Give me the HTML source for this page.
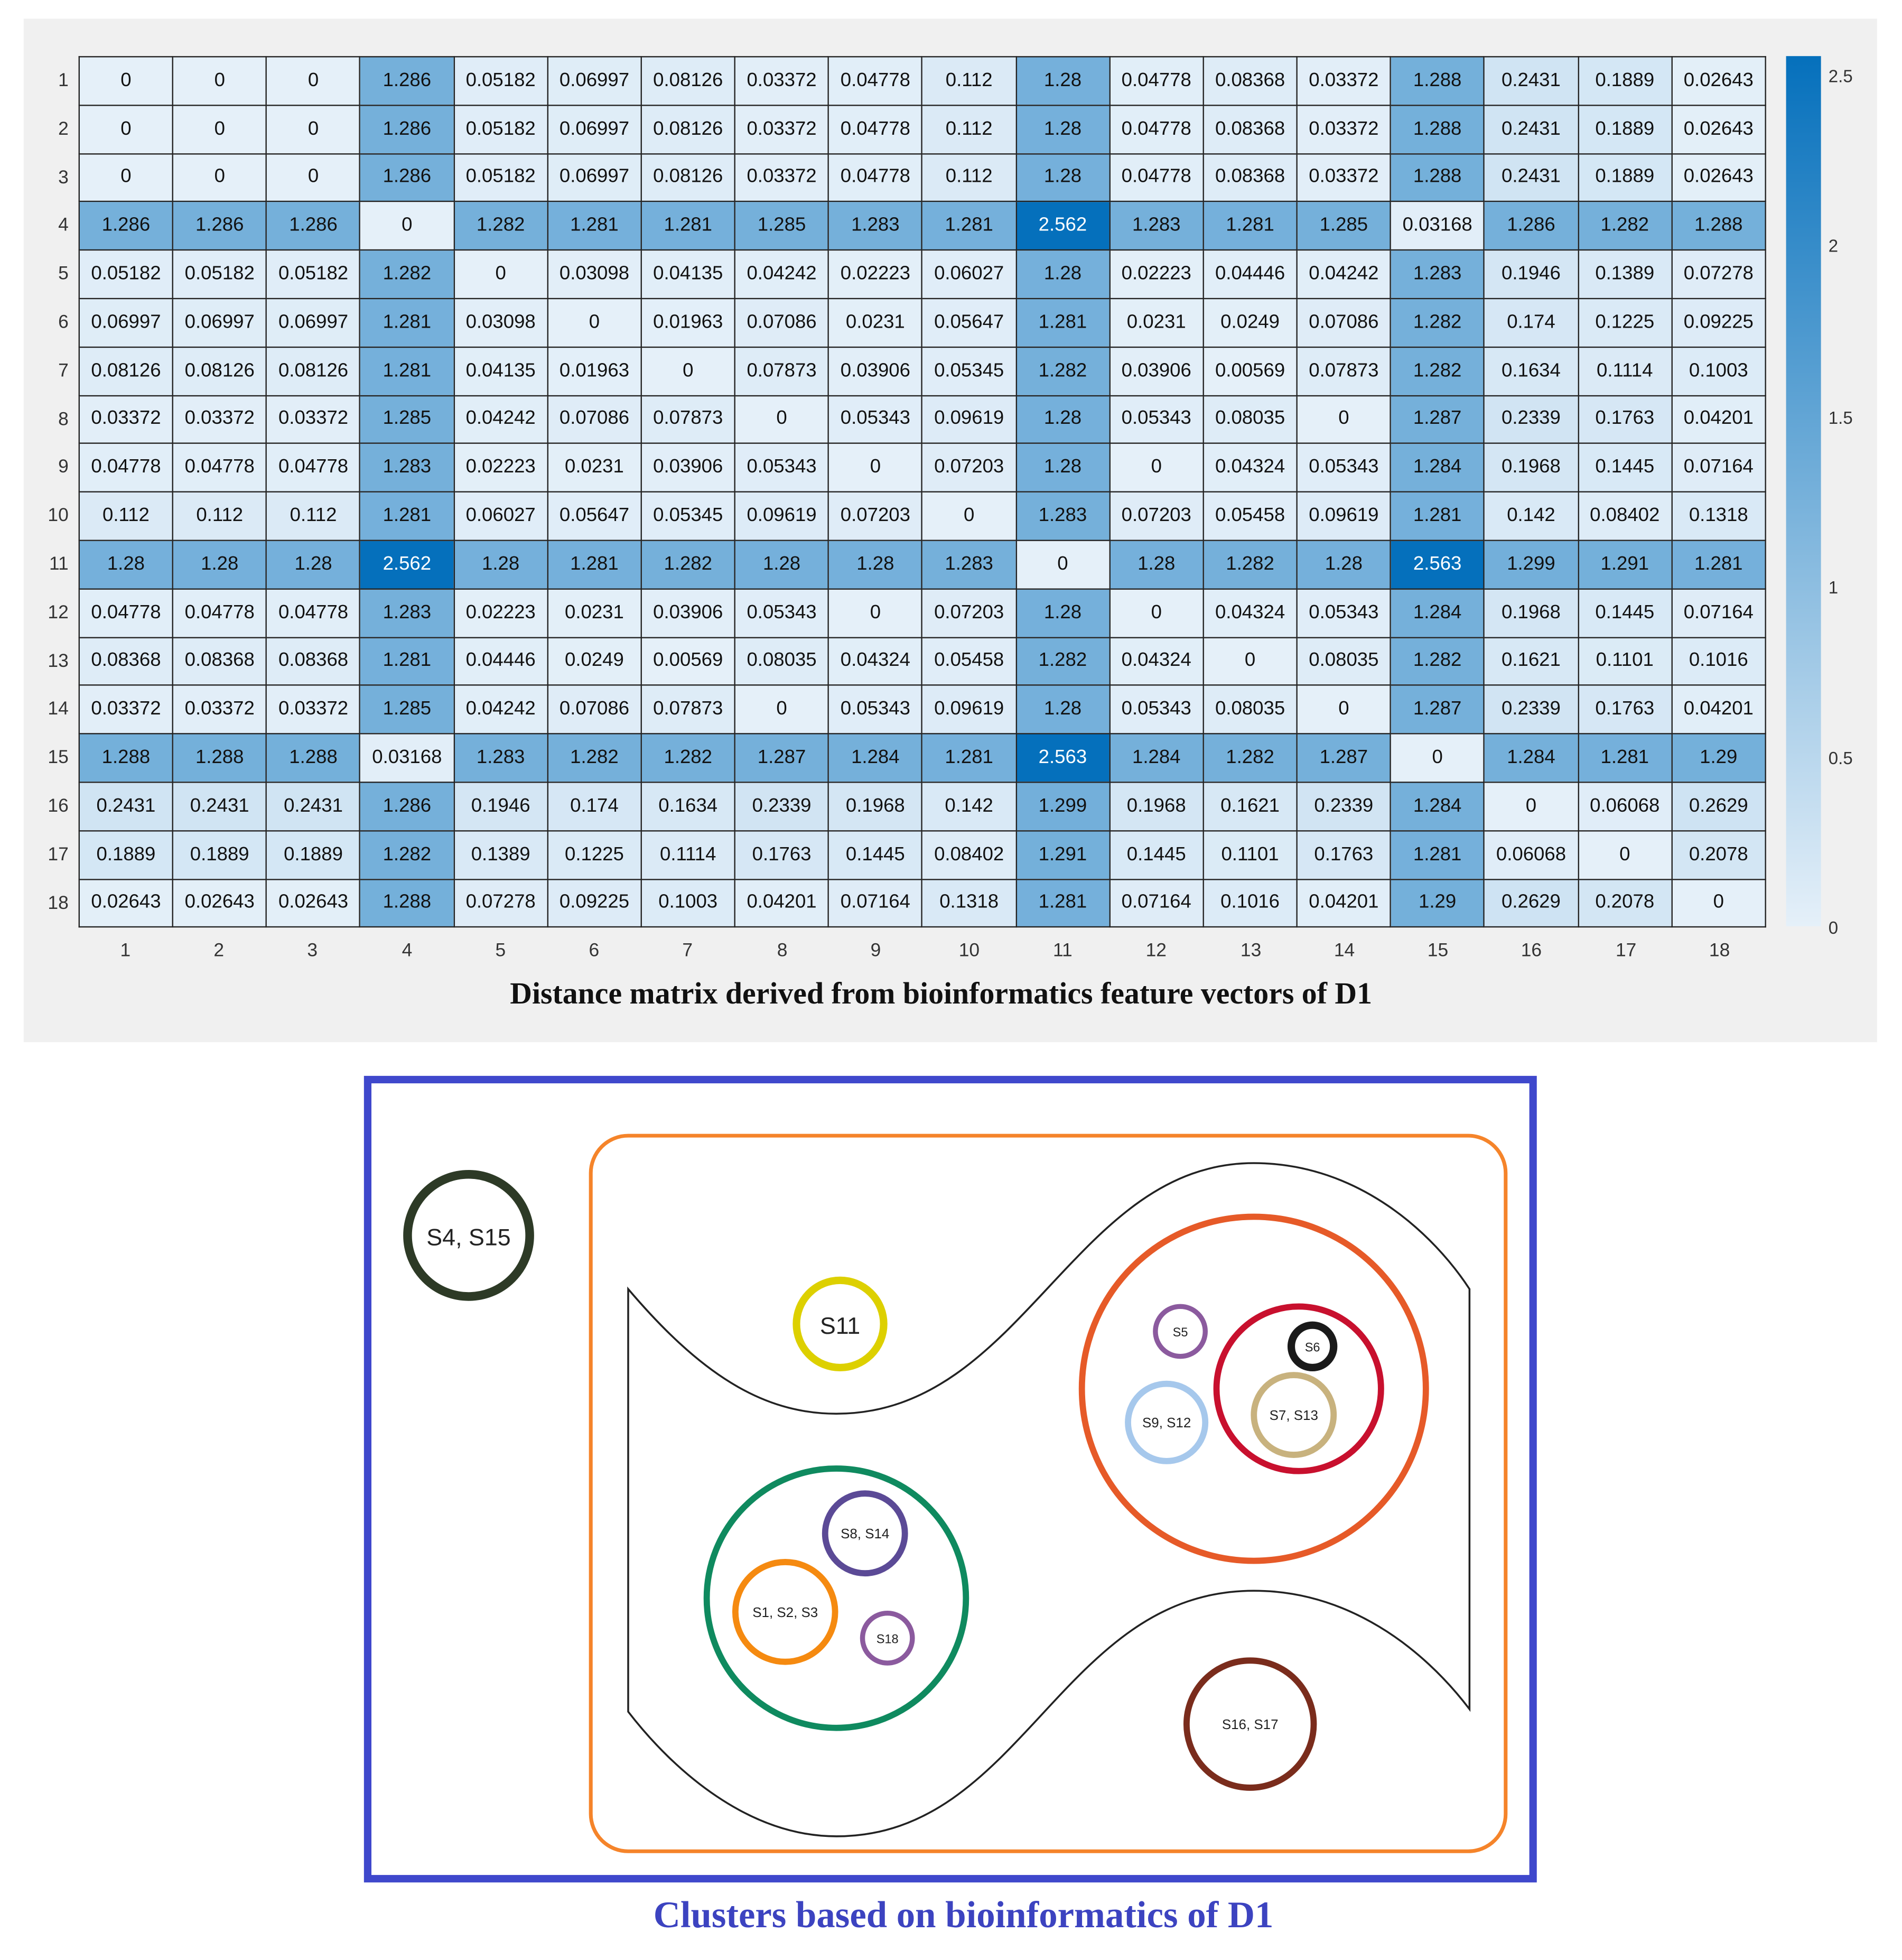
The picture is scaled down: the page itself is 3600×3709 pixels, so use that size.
<!DOCTYPE html>
<html><head><meta charset="utf-8"><style>
html,body{margin:0;padding:0;background:#fff;}
body{width:3600px;height:3709px;overflow:hidden;position:relative;}
#w{position:absolute;left:0;top:0;width:1526px;height:1572.2px;transform:scale(2.3591);transform-origin:0 0;font-family:"Liberation Sans",Arial,sans-serif;}
#panel{position:absolute;left:19px;top:15px;width:1487px;height:821px;background:#f0f0f0;}
table{position:absolute;left:63px;top:45px;width:1354px;border-collapse:collapse;table-layout:fixed;border:1.5px solid #222;}
td{border:1px solid #222;text-align:center;font-size:15.5px;line-height:16px;color:#111;padding:0;background:#e3eef8;height:37.8px;box-sizing:content-box;white-space:nowrap;overflow:hidden;}
.rl{position:absolute;left:30px;width:25px;text-align:right;font-size:15px;color:#333;}
.cl{position:absolute;top:754px;width:75.2px;text-align:center;font-size:15px;color:#333;}
#cb{position:absolute;left:1433px;top:45px;width:28px;height:698px;background:linear-gradient(to bottom,#0570bc,#75b0da 50%,#e5f0f9);}
.tk{position:absolute;left:1467px;font-size:14px;color:#333;}
#t1{position:absolute;left:0;width:1510px;top:784px;text-align:center;font-family:"Liberation Serif",serif;font-weight:bold;font-size:24.5px;color:#111;}
#t2{position:absolute;left:0;width:1546px;top:1520px;text-align:center;font-family:"Liberation Serif",serif;font-weight:bold;font-size:30px;color:#3c43c0;}
svg{position:absolute;left:0;top:0;}
</style></head><body><div id="w">
<div id="panel"></div>
<table id="m">
<tr><td>0<td>0<td>0<td>1.286<td>0.05182<td>0.06997<td>0.08126<td>0.03372<td>0.04778<td>0.112<td>1.28<td>0.04778<td>0.08368<td>0.03372<td>1.288<td>0.2431<td>0.1889<td>0.02643</tr>
<tr><td>0<td>0<td>0<td>1.286<td>0.05182<td>0.06997<td>0.08126<td>0.03372<td>0.04778<td>0.112<td>1.28<td>0.04778<td>0.08368<td>0.03372<td>1.288<td>0.2431<td>0.1889<td>0.02643</tr>
<tr><td>0<td>0<td>0<td>1.286<td>0.05182<td>0.06997<td>0.08126<td>0.03372<td>0.04778<td>0.112<td>1.28<td>0.04778<td>0.08368<td>0.03372<td>1.288<td>0.2431<td>0.1889<td>0.02643</tr>
<tr><td>1.286<td>1.286<td>1.286<td>0<td>1.282<td>1.281<td>1.281<td>1.285<td>1.283<td>1.281<td>2.562<td>1.283<td>1.281<td>1.285<td>0.03168<td>1.286<td>1.282<td>1.288</tr>
<tr><td>0.05182<td>0.05182<td>0.05182<td>1.282<td>0<td>0.03098<td>0.04135<td>0.04242<td>0.02223<td>0.06027<td>1.28<td>0.02223<td>0.04446<td>0.04242<td>1.283<td>0.1946<td>0.1389<td>0.07278</tr>
<tr><td>0.06997<td>0.06997<td>0.06997<td>1.281<td>0.03098<td>0<td>0.01963<td>0.07086<td>0.0231<td>0.05647<td>1.281<td>0.0231<td>0.0249<td>0.07086<td>1.282<td>0.174<td>0.1225<td>0.09225</tr>
<tr><td>0.08126<td>0.08126<td>0.08126<td>1.281<td>0.04135<td>0.01963<td>0<td>0.07873<td>0.03906<td>0.05345<td>1.282<td>0.03906<td>0.00569<td>0.07873<td>1.282<td>0.1634<td>0.1114<td>0.1003</tr>
<tr><td>0.03372<td>0.03372<td>0.03372<td>1.285<td>0.04242<td>0.07086<td>0.07873<td>0<td>0.05343<td>0.09619<td>1.28<td>0.05343<td>0.08035<td>0<td>1.287<td>0.2339<td>0.1763<td>0.04201</tr>
<tr><td>0.04778<td>0.04778<td>0.04778<td>1.283<td>0.02223<td>0.0231<td>0.03906<td>0.05343<td>0<td>0.07203<td>1.28<td>0<td>0.04324<td>0.05343<td>1.284<td>0.1968<td>0.1445<td>0.07164</tr>
<tr><td>0.112<td>0.112<td>0.112<td>1.281<td>0.06027<td>0.05647<td>0.05345<td>0.09619<td>0.07203<td>0<td>1.283<td>0.07203<td>0.05458<td>0.09619<td>1.281<td>0.142<td>0.08402<td>0.1318</tr>
<tr><td>1.28<td>1.28<td>1.28<td>2.562<td>1.28<td>1.281<td>1.282<td>1.28<td>1.28<td>1.283<td>0<td>1.28<td>1.282<td>1.28<td>2.563<td>1.299<td>1.291<td>1.281</tr>
<tr><td>0.04778<td>0.04778<td>0.04778<td>1.283<td>0.02223<td>0.0231<td>0.03906<td>0.05343<td>0<td>0.07203<td>1.28<td>0<td>0.04324<td>0.05343<td>1.284<td>0.1968<td>0.1445<td>0.07164</tr>
<tr><td>0.08368<td>0.08368<td>0.08368<td>1.281<td>0.04446<td>0.0249<td>0.00569<td>0.08035<td>0.04324<td>0.05458<td>1.282<td>0.04324<td>0<td>0.08035<td>1.282<td>0.1621<td>0.1101<td>0.1016</tr>
<tr><td>0.03372<td>0.03372<td>0.03372<td>1.285<td>0.04242<td>0.07086<td>0.07873<td>0<td>0.05343<td>0.09619<td>1.28<td>0.05343<td>0.08035<td>0<td>1.287<td>0.2339<td>0.1763<td>0.04201</tr>
<tr><td>1.288<td>1.288<td>1.288<td>0.03168<td>1.283<td>1.282<td>1.282<td>1.287<td>1.284<td>1.281<td>2.563<td>1.284<td>1.282<td>1.287<td>0<td>1.284<td>1.281<td>1.29</tr>
<tr><td>0.2431<td>0.2431<td>0.2431<td>1.286<td>0.1946<td>0.174<td>0.1634<td>0.2339<td>0.1968<td>0.142<td>1.299<td>0.1968<td>0.1621<td>0.2339<td>1.284<td>0<td>0.06068<td>0.2629</tr>
<tr><td>0.1889<td>0.1889<td>0.1889<td>1.282<td>0.1389<td>0.1225<td>0.1114<td>0.1763<td>0.1445<td>0.08402<td>1.291<td>0.1445<td>0.1101<td>0.1763<td>1.281<td>0.06068<td>0<td>0.2078</tr>
<tr><td>0.02643<td>0.02643<td>0.02643<td>1.288<td>0.07278<td>0.09225<td>0.1003<td>0.04201<td>0.07164<td>0.1318<td>1.281<td>0.07164<td>0.1016<td>0.04201<td>1.29<td>0.2629<td>0.2078<td>0</tr>
</table>
<div class="rl" style="top:56px">1</div><div class="rl" style="top:95px">2</div><div class="rl" style="top:134px">3</div><div class="rl" style="top:172px">4</div><div class="rl" style="top:211px">5</div><div class="rl" style="top:250px">6</div><div class="rl" style="top:289px">7</div><div class="rl" style="top:328px">8</div><div class="rl" style="top:366px">9</div><div class="rl" style="top:405px">10</div><div class="rl" style="top:444px">11</div><div class="rl" style="top:483px">12</div><div class="rl" style="top:522px">13</div><div class="rl" style="top:560px">14</div><div class="rl" style="top:599px">15</div><div class="rl" style="top:638px">16</div><div class="rl" style="top:677px">17</div><div class="rl" style="top:716px">18</div>
<div class="cl" style="left:63px">1</div><div class="cl" style="left:138px">2</div><div class="cl" style="left:213px">3</div><div class="cl" style="left:289px">4</div><div class="cl" style="left:364px">5</div><div class="cl" style="left:439px">6</div><div class="cl" style="left:514px">7</div><div class="cl" style="left:590px">8</div><div class="cl" style="left:665px">9</div><div class="cl" style="left:740px">10</div><div class="cl" style="left:815px">11</div><div class="cl" style="left:890px">12</div><div class="cl" style="left:966px">13</div><div class="cl" style="left:1041px">14</div><div class="cl" style="left:1116px">15</div><div class="cl" style="left:1191px">16</div><div class="cl" style="left:1267px">17</div><div class="cl" style="left:1342px">18</div>
<div id="cb"></div>
<div class="tk" style="top:53px">2.5</div><div class="tk" style="top:189px">2</div><div class="tk" style="top:327px">1.5</div><div class="tk" style="top:463px">1</div><div class="tk" style="top:600px">0.5</div><div class="tk" style="top:736px">0</div>
<div id="t1">Distance matrix derived from bioinformatics feature vectors of D1</div>
<svg width="1526" height="1572" viewBox="0 0 1526 1572" font-family="Liberation Sans, Arial, sans-serif">
<rect x="295" y="866" width="935" height="641" fill="none" stroke="#3f48cc" stroke-width="6"/>
<rect x="474" y="911" width="734" height="574" rx="30" fill="none" stroke="#f5842a" stroke-width="3"/>
<path d="M504,1034 C561,1101 611,1134 671,1134 C821,1134 861,933 1006,933 C1091,933 1151,991 1179,1034 L1179,1371 C1141,1321 1081,1276 1006,1276 C851,1276 821,1473 671,1473 C601,1473 541,1421 504,1373 Z" fill="none" stroke="#222" stroke-width="1.5"/>
<g fill="none">
<circle cx="376" cy="991" r="49" stroke="#2d3a26" stroke-width="7"/>
<circle cx="674" cy="1062" r="35" stroke="#ddd000" stroke-width="6"/>
<circle cx="1006" cy="1114" r="138" stroke="#e65a28" stroke-width="5"/>
<circle cx="947" cy="1068" r="20" stroke="#8b5a9e" stroke-width="4"/>
<circle cx="1042" cy="1114" r="66" stroke="#c8102e" stroke-width="5"/>
<circle cx="1053" cy="1080" r="17" stroke="#1a1a1a" stroke-width="6"/>
<circle cx="1038" cy="1135" r="32" stroke="#c8b27e" stroke-width="5"/>
<circle cx="936" cy="1141" r="31" stroke="#a6c8ec" stroke-width="5"/>
<circle cx="671" cy="1282" r="104" stroke="#0f8a5f" stroke-width="5"/>
<circle cx="694" cy="1230" r="32" stroke="#5b4a96" stroke-width="5"/>
<circle cx="630" cy="1293" r="40" stroke="#f58a10" stroke-width="5"/>
<circle cx="712" cy="1314" r="20" stroke="#8b5a9e" stroke-width="4"/>
<circle cx="1003" cy="1383" r="51" stroke="#7a2c1c" stroke-width="5"/>
</g>
<g text-anchor="middle" fill="#222">
<text x="376" y="999" font-size="19">S4, S15</text>
<text x="674" y="1070" font-size="19">S11</text>
<text x="947" y="1072" font-size="10">S5</text>
<text x="1053" y="1084" font-size="10">S6</text>
<text x="1038" y="1139" font-size="11">S7, S13</text>
<text x="936" y="1145" font-size="11">S9, S12</text>
<text x="694" y="1234" font-size="11">S8, S14</text>
<text x="630" y="1297" font-size="11">S1, S2, S3</text>
<text x="712" y="1318" font-size="10">S18</text>
<text x="1003" y="1387" font-size="11">S16, S17</text>
</g>
</svg>
<div id="t2">Clusters based on bioinformatics of D1</div>
</div>
<script>
var a=[229,240,249],b=[5,112,188];
document.querySelectorAll('#m td').forEach(function(td){var v=parseFloat(td.textContent);var t=Math.min(v/2.563,1);
var c=a.map(function(x,i){return Math.round(x+(b[i]-x)*t)});td.style.background='rgb('+c.join(',')+')';if(v>2)td.style.color='#fff';});
</script>
</body></html>
